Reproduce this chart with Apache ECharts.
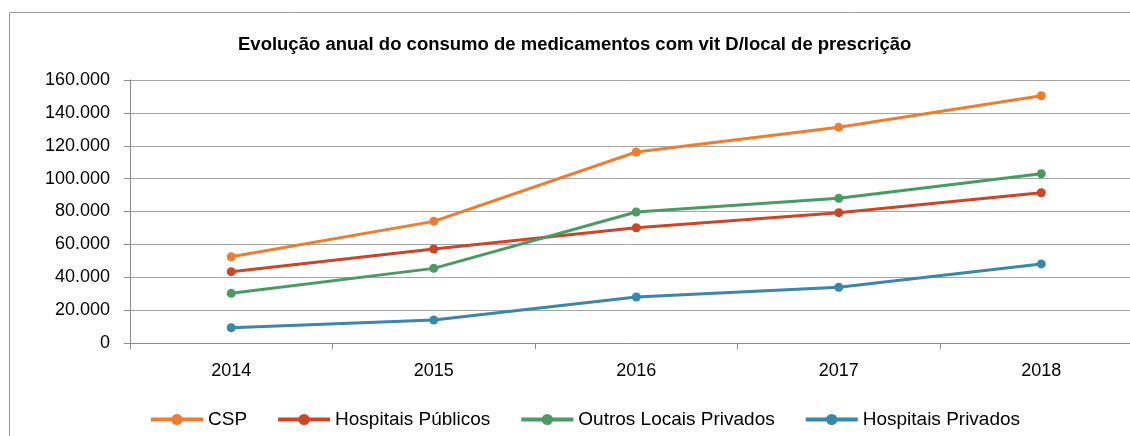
<!DOCTYPE html>
<html>
<head>
<meta charset="utf-8">
<script src="https://cdn.jsdelivr.net/npm/echarts@6/dist/echarts.min.js"></script>
<style>
  html, body { margin: 0; padding: 0; background: #fff; }
  #chart { width: 1130px; height: 436px; }
</style>
</head>
<body>
<div id="chart"></div>
<script>
'use strict';

var anos = ['2014', '2015', '2016', '2017', '2018'];
var csp = [52500, 74000, 116200, 131200, 150400];
var hospPublicos = [43400, 57200, 70100, 79300, 91400];
var outrosPrivados = [30200, 45400, 79700, 88000, 103000];
var hospPrivados = [9300, 14000, 28000, 33900, 48100];

var fonte = 'Liberation Sans, Arial, sans-serif';

var formatMilhares = function (v) {
    return String(v).replace(/\B(?=(\d{3})+(?!\d))/g, '.');
};

var linha = function (nome, dados, cor) {
    return {
        name: nome,
        type: 'line',
        data: dados,
        symbol: 'circle',
        symbolSize: 9,
        showSymbol: true,
        lineStyle: { color: cor, width: 3 },
        itemStyle: { color: cor },
        emphasis: { disabled: true },
        animation: false
    };
};

var myChart = echarts.init(document.getElementById('chart'));

var option = {
    backgroundColor: '#fff',
    textStyle: { fontFamily: fonte },
    title: {
        text: 'Evolução anual do consumo de medicamentos com vit D/local de prescrição',
        left: 233,
        top: 30,
        textStyle: {
            fontFamily: fonte,
            fontSize: 18.5,
            fontWeight: 'bold',
            color: '#000'
        }
    },
    graphic: [{
        type: 'rect',
        shape: { x: 9.5, y: 12.5, width: 1300, height: 600 },
        style: { fill: 'none', stroke: '#a0a0a0', lineWidth: 1 },
        silent: true
    }],
    legend: {
        top: 410,
        left: 149,
        padding: 0,
        itemWidth: 52,
        itemHeight: 14,
        itemGap: 29,
        lineStyle: { width: 4 },
        textStyle: { fontFamily: fonte, fontSize: 19, color: '#000' },
        data: ['CSP', 'Hospitais Públicos', 'Outros Locais Privados', 'Hospitais Privados']
    },
    grid: {
        left: 130,
        top: 80,
        right: -12.5,
        bottom: 93,
        outerBoundsMode: 'none'
    },
    xAxis: {
        type: 'category',
        data: anos,
        boundaryGap: true,
        axisLine: { show: true, lineStyle: { color: '#8c8c8c', width: 1 } },
        axisTick: { show: true, length: 6, lineStyle: { color: '#8c8c8c' } },
        axisLabel: { fontFamily: fonte, fontSize: 18, color: '#000', margin: 19 },
        splitLine: { show: false }
    },
    yAxis: {
        type: 'value',
        min: 0,
        max: 160000,
        interval: 20000,
        axisLine: { show: true, lineStyle: { color: '#8c8c8c', width: 1 } },
        axisTick: { show: true, length: 6, lineStyle: { color: '#8c8c8c' } },
        axisLabel: {
            fontFamily: fonte,
            fontSize: 18,
            color: '#000',
            margin: 20,
            formatter: formatMilhares
        },
        splitLine: { show: true, lineStyle: { color: '#a6a6a6', width: 1 } }
    },
    series: [
        linha('CSP', csp, '#ed7d31'),
        linha('Hospitais Públicos', hospPublicos, '#cc4526'),
        linha('Outros Locais Privados', outrosPrivados, '#4a9a64'),
        linha('Hospitais Privados', hospPrivados, '#3a87a8')
    ]
};

myChart.setOption(option, true);
</script>
</body>
</html>
